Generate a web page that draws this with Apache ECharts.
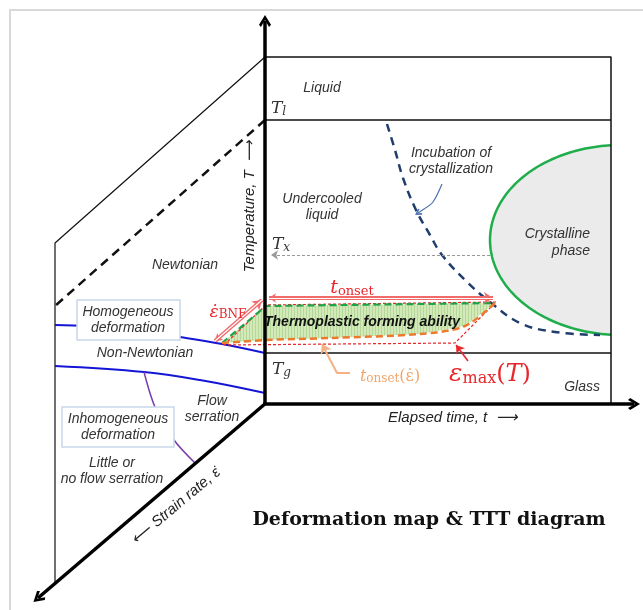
<!DOCTYPE html>
<html>
<head>
<meta charset="utf-8">
<script src="https://cdn.jsdelivr.net/npm/echarts@6/dist/echarts.min.js"></script>
<style>
  html, body { margin: 0; padding: 0; background: #fff; }
  #main { width: 643px; height: 610px; }
</style>
</head>
<body>
<div id="main"></div>
<script>
// diagram units: 0..643 across, 0..610 down (y axis is inverted)

// thick axes, arrow at the second point
const axisTemp = [[265, 405], [265, 21]];
const axisTime = [[263, 404], [634, 404]];
const axisStrain = [[266, 403], [38, 598]];

// thin outlines of the TTT box and the strain-rate face
const outlineTop = [[265, 57], [611, 57], [611, 404]];
const lineTl = [[265, 120], [611, 120]];
const lineTg = [[265, 353], [611, 353]];
const faceEdge = [[265, 57], [55, 243], [55, 584]];
const liquidusDash = [[265, 120], [55, 306]];

// deformation map boundaries
const upperBlue = [[55, 325], [120, 328], [180, 337], [222, 344], [265, 353]];
const lowerBlue = [[55, 366], [144, 372], [200, 380], [265, 393]];
const purpleLine = [[144, 372], [155, 407], [174, 440], [195, 463]];

// TTT curves
const incubation = [[387, 124], [395, 150], [403, 178], [416, 210], [430, 235], [442, 255], [467, 282], [490, 302], [520, 323], [555, 332], [600, 335]];
const crystalEllipse = [621, 240, 131, 95];   // cx, cy, rx, ry
const boxRight = 611;

// thermoplastic forming window
const tfaRegion = [[222, 343], [266, 306], [495, 303], [465, 326], [420, 334], [330, 338], [266, 340]];
const tfaTop = [[222, 343], [266, 306], [495, 303]];
const tfaBottom = [[495, 303], [465, 326], [420, 334], [330, 338], [266, 340], [222, 343]];
const redDotted = [[224, 345], [266, 305], [496, 302], [455, 343], [224, 345]];

// arrows
const onsetArrow = [[269, 298], [493, 298]];
const bnfArrow = [[215, 341], [262, 300]];
const txArrow = [[490, 255], [271, 255]];
const emaxPointer = [[468, 361], [456, 345]];
const orangeLeader = [[350, 373], [337, 373], [326, 352]];
const orangeTip = [[326, 352], [322, 344]];
const incubLeader = [[442, 184], [433, 202], [424, 209]];
const incubTip = [[424, 209], [418, 213]];

// label boxes: x0, y0, x1, y1
const homBox = [77, 300, 180, 340];
const inhomBox = [62, 407, 174, 447];
const frame = [10, 10, 660, 630];

// labels: x, y, text, kind
const labels = [
  [322, 88, 'Liquid', 'it'],
  [322, 207, 'Undercooled\nliquid', 'it'],
  [451, 161, 'Incubation of\ncrystallization', 'it'],
  [590, 243, 'Crystalline\nphase', 'itR'],
  [600, 387, 'Glass', 'itR'],
  [185, 265, 'Newtonian', 'it'],
  [128, 320, 'Homogeneous\ndeformation', 'it'],
  [145, 353, 'Non-Newtonian', 'it'],
  [212, 409, 'Flow\nserration', 'it'],
  [118, 427, 'Inhomogeneous\ndeformation', 'it'],
  [112, 471, 'Little or\nno flow serration', 'it'],
  [388, 418, 'Elapsed time, t  \u27F6', 'axL'],
  [250, 206, 'Temperature, T  \u27F6', 'rotT'],
  [176, 506, '\u27F5 Strain rate, \u03B5\u0307', 'rotS'],
  [271, 108, '{a|T}{b|l}', 'tsub'],
  [272, 244, '{a|T}{b|x}', 'tsub'],
  [272, 369, '{a|T}{b|g}', 'tsub'],
  [352, 287, '{t|t}{s|onset}', 'redT'],
  [228, 311, '{t|\u03B5\u0307}{s|BNF}', 'redB'],
  [490, 373, '{e|\u03B5}{m|max}{p|(}{t|T}{p|)}', 'redE'],
  [390, 375, '{t|t}{s|onset}{p|(\u03B5\u0307)}', 'orng'],
  [362, 322, 'Thermoplastic forming ability', 'tfa'],
  [429, 520, 'Deformation map & TTT diagram', 'title']
];

const sans = '"Liberation Sans", Arial, sans-serif';
const serif = '"DejaVu Serif", "Liberation Serif", serif';
const red = '#e8262b';
const orange = '#f0a66c';

function tok(size, color, lh, extra) {
  return Object.assign({ fontSize: size, fontFamily: serif, fill: color, verticalAlign: 'bottom', lineHeight: lh }, extra || {});
}

const textKinds = {
  it: { font: 'italic 14px ' + sans, fill: '#333', align: 'center', verticalAlign: 'middle', lineHeight: 16 },
  itR: { font: 'italic 14px ' + sans, fill: '#333', align: 'right', verticalAlign: 'middle', lineHeight: 17 },
  axL: { font: 'italic 15px ' + sans, fill: '#222', align: 'left', verticalAlign: 'middle' },
  rotT: { font: 'italic 15px ' + sans, fill: '#222', align: 'center', verticalAlign: 'middle', rot: 90 },
  rotS: { font: 'italic 15px ' + sans, fill: '#222', align: 'center', verticalAlign: 'middle', rot: 40 },
  tfa: { font: 'italic bold 14px ' + sans, fill: '#111', align: 'center', verticalAlign: 'middle' },
  title: { font: 'bold 19px ' + serif, fill: '#111', align: 'center', verticalAlign: 'middle' },
  tsub: { align: 'left', verticalAlign: 'middle', rich: {
    a: tok(17, '#333', 19, { fontStyle: 'italic' }),
    b: tok(12, '#333', 11, { fontStyle: 'italic' }) } },
  redT: { align: 'center', verticalAlign: 'middle', rich: {
    t: tok(19, red, 22, { fontStyle: 'italic' }),
    s: tok(13, red, 12) } },
  redB: { align: 'center', verticalAlign: 'middle', rich: {
    t: tok(17, red, 20, { fontStyle: 'italic' }),
    s: tok(12, red, 11) } },
  redE: { align: 'center', verticalAlign: 'middle', rich: {
    e: tok(25, red, 28, { fontStyle: 'italic' }),
    m: tok(16, red, 15),
    p: tok(24, red, 28),
    t: tok(24, red, 28, { fontStyle: 'italic' }) } },
  orng: { align: 'center', verticalAlign: 'middle', rich: {
    t: tok(16, orange, 19, { fontStyle: 'italic' }),
    s: tok(12, orange, 11),
    p: tok(16, orange, 19) } }
};

// vertical hatching for the forming window
const stripe = document.createElement('canvas');
stripe.width = 3; stripe.height = 3;
const sc = stripe.getContext('2d');
sc.fillStyle = '#d3e9ba'; sc.fillRect(0, 0, 3, 3);
sc.fillStyle = '#b4d898'; sc.fillRect(0, 0, 1, 3);

const chevron = 'path://M8,0 L16,9 L13.4,11 L8,4.6 L2.6,11 L0,9 Z';

function pl(points, color, width, opts) {
  return Object.assign({
    type: 'line', data: points, symbol: 'none', silent: true, clip: false, z: 4,
    lineStyle: { color: color, width: width }
  }, opts || {});
}

function arrow(points, color, width, sym, size, opts) {
  return Object.assign({
    type: 'lines', coordinateSystem: 'cartesian2d', silent: true, z: 6,
    symbol: sym, symbolSize: size,
    lineStyle: { color: color, width: width, opacity: 1, curveness: 0 },
    data: [{ coords: points }]
  }, opts || {});
}

function poly(points, style, z) {
  return {
    type: 'custom', data: [0], silent: true, clip: false, z: z,
    renderItem: function (params, api) {
      return { type: 'polygon', shape: { points: points.map(function (p) { return api.coord(p); }) }, style: style };
    }
  };
}

function box(b, style, z) {
  return {
    type: 'custom', data: [0], silent: true, clip: false, z: z,
    renderItem: function (params, api) {
      const a = api.coord([b[0], b[1]]);
      const c = api.coord([b[2], b[3]]);
      return { type: 'rect', shape: { x: a[0], y: a[1], width: c[0] - a[0], height: c[1] - a[1] }, style: style };
    }
  };
}

const crystalSeries = {
  type: 'custom', data: [0], silent: true, clip: false, z: 2,
  renderItem: function (params, api) {
    const cx = crystalEllipse[0], cy = crystalEllipse[1], rx = crystalEllipse[2], ry = crystalEllipse[3];
    const t0 = Math.acos((boxRight - cx) / rx);
    const pts = [];
    for (let i = 0; i <= 120; i++) {
      const t = t0 + (2 * Math.PI - 2 * t0) * i / 120;
      pts.push(api.coord([cx + rx * Math.cos(t), cy + ry * Math.sin(t)]));
    }
    return { type: 'group', children: [
      { type: 'polygon', shape: { points: pts }, style: { fill: '#ebebeb' } },
      { type: 'polyline', shape: { points: pts }, style: { stroke: '#1fae4b', lineWidth: 2.5, fill: null } }
    ] };
  }
};

const textSeries = {
  type: 'custom', silent: true, clip: false, z: 10,
  data: labels.map(function (l) { return [l[0], l[1]]; }),
  renderItem: function (params, api) {
    const l = labels[params.dataIndex];
    const p = api.coord([api.value(0), api.value(1)]);
    const k = textKinds[l[3]];
    const style = Object.assign({ text: l[2], x: 0, y: 0 }, k);
    delete style.rot;
    return { type: 'text', x: p[0], y: p[1], rotation: (k.rot || 0) * Math.PI / 180, style: style };
  }
};

const chart = echarts.init(document.getElementById('main'), null, { renderer: 'canvas' });
chart.setOption({
  animation: false,
  backgroundColor: '#fff',
  grid: { left: 0, right: 0, top: 0, bottom: 0 },
  xAxis: { type: 'value', min: 0, max: 643, show: false },
  yAxis: { type: 'value', min: 0, max: 610, inverse: true, show: false },
  series: [
    box(frame, { fill: null, stroke: '#d9d9d9', lineWidth: 2 }, 1),
    crystalSeries,
    poly(tfaRegion, { fill: { image: stripe, repeat: 'repeat' } }, 3),

    pl(outlineTop, '#111', 1.5),
    pl(lineTl, '#111', 1.5),
    pl(lineTg, '#111', 1.5),
    pl(faceEdge, '#111', 1.2),
    pl(liquidusDash, '#111', 2.5, { lineStyle: { color: '#111', width: 2.5, type: [9, 6] } }),
    pl(upperBlue, '#1515d6', 2, { smooth: 0.4 }),
    pl(lowerBlue, '#1515d6', 2, { smooth: 0.4 }),
    pl(purpleLine, '#7a3cb0', 1.5, { smooth: 0.3 }),
    pl(incubation, '#1f3d6d', 2.5, { smooth: 0.4, lineStyle: { color: '#1f3d6d', width: 2.5, type: [8, 6] } }),

    pl(redDotted, red, 1.2, { z: 5, lineStyle: { color: red, width: 1.2, type: [3, 2] } }),
    pl(tfaTop, '#1fa346', 2.2, { z: 5, lineStyle: { color: '#1fa346', width: 2.2, type: [7, 4] } }),
    pl(tfaBottom, '#ec7a2c', 2.5, { z: 5, smooth: 0.3, lineStyle: { color: '#ec7a2c', width: 2.5, type: [7, 4] } }),

    arrow(onsetArrow, '#f26b6b', 4, ['arrow', 'arrow'], [7, 9]),
    arrow(onsetArrow, '#fff', 1.2, ['none', 'none'], 1, { z: 7 }),
    arrow(bnfArrow, '#f26b6b', 4, ['arrow', 'arrow'], [7, 9]),
    arrow(bnfArrow, '#fff', 1.2, ['none', 'none'], 1, { z: 7 }),
    arrow(txArrow, '#999', 1, ['none', 'arrow'], [5, 7], { lineStyle: { color: '#999', width: 1, opacity: 1, type: [3, 2] } }),
    arrow(emaxPointer, red, 1.5, ['none', 'arrow'], [6, 8]),
    pl(orangeLeader, '#f4b183', 2, { z: 6 }),
    arrow(orangeTip, '#f4b183', 2, ['none', 'arrow'], [8, 9]),
    pl(incubLeader, '#4a72b0', 1.2, { z: 6, smooth: 0.3 }),
    arrow(incubTip, '#4a72b0', 1.2, ['none', chevron], [9, 7]),

    box(homBox, { fill: '#fff', stroke: '#c8d8ea', lineWidth: 1.5 }, 8),
    box(inhomBox, { fill: '#fff', stroke: '#c8d8ea', lineWidth: 1.5 }, 8),

    arrow(axisTemp, '#000', 3.5, ['none', chevron], [17, 12], { z: 9 }),
    arrow(axisTime, '#000', 3.5, ['none', chevron], [17, 12], { z: 9 }),
    arrow(axisStrain, '#000', 3.5, ['none', chevron], [17, 12], { z: 9 }),

    textSeries
  ]
});
</script>
</body>
</html>
